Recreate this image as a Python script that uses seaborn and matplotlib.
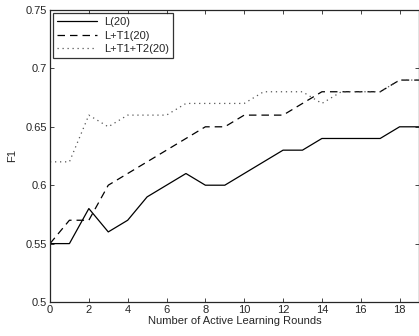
import seaborn as sns
import pandas as pd
import matplotlib.pyplot as plt

# Rondas de aprendizaje activo y valores F1 de cada configuración
rounds = list(range(20))
f1_l = [0.55, 0.55, 0.58, 0.56, 0.57, 0.59, 0.60, 0.61, 0.60, 0.60,
        0.61, 0.62, 0.63, 0.63, 0.64, 0.64, 0.64, 0.64, 0.65, 0.65]
f1_lt1 = [0.55, 0.57, 0.57, 0.60, 0.61, 0.62, 0.63, 0.64, 0.65, 0.65,
          0.66, 0.66, 0.66, 0.67, 0.68, 0.68, 0.68, 0.68, 0.69, 0.69]
f1_lt1t2 = [0.62, 0.62, 0.66, 0.65, 0.66, 0.66, 0.66, 0.67, 0.67, 0.67,
            0.67, 0.68, 0.68, 0.68, 0.67, 0.68, 0.68, 0.68, 0.69, 0.69]
series_names = ['L(20)', 'L+T1(20)', 'L+T1+T2(20)']
x_ticks = list(range(0, 20, 2))
y_ticks = [0.5, 0.55, 0.6, 0.65, 0.7, 0.75]
y_tick_labels = ['0.5', '0.55', '0.6', '0.65', '0.7', '0.75']

data = pd.DataFrame({
    'Round': rounds * 3,
    'F1': f1_l + f1_lt1 + f1_lt1t2,
    'Method': [s for s in series_names for _ in rounds],
})

sns.set_style("ticks")
plt.rcParams['font.family'] = ['Liberation Sans', 'DejaVu Sans']

fig = plt.figure(figsize=(4.19, 3.36), dpi=100)
ax = fig.add_axes([50 / 419, 34 / 336, 369 / 419, 292 / 336])

styles = {'L(20)': (0.9, '-', 'black'),
          'L+T1(20)': (0.9, (0, (6, 4)), 'black'),
          'L+T1+T2(20)': (0.9, (0, (1, 3)), '#555555')}
for name in series_names:
    lw, ls, col = styles[name]
    sns.lineplot(data=data[data['Method'] == name], x='Round', y='F1',
                 ax=ax, color=col, linewidth=lw, linestyle=ls, label=name)

ax.set_xlim(0, 19)
ax.set_ylim(0.5, 0.75)
ax.set_xticks(x_ticks)
ax.set_yticks(y_ticks)
ax.set_yticklabels(y_tick_labels)
ax.tick_params(direction='in', length=3, width=0.6, labelsize=8,
               top=True, right=True, pad=2)
for sp in ax.spines.values():
    sp.set_linewidth(0.9)
    sp.set_visible(True)

ax.set_xlabel('Number of Active Learning Rounds', fontsize=8, labelpad=1)
ax.set_ylabel('F1', fontsize=8, labelpad=6)

leg = ax.legend(loc='upper left', fontsize=8, frameon=True, fancybox=False,
                edgecolor='black', borderaxespad=0.3, handlelength=3.6,
                borderpad=0.35, labelspacing=0.3, handletextpad=0.6)
leg.get_frame().set_linewidth(0.9)

plt.savefig('out.png', dpi=100)
